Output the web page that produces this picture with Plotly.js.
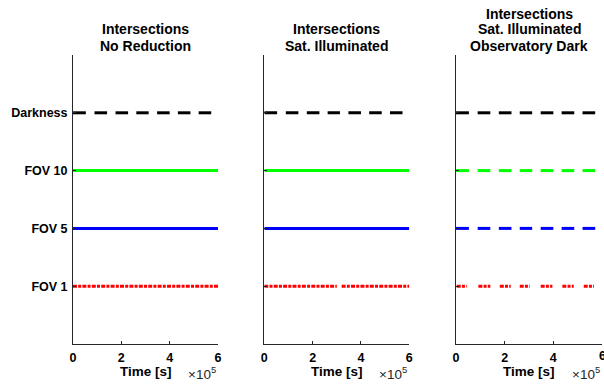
<!DOCTYPE html>
<html><head><meta charset="utf-8">
<script src="https://cdn.plot.ly/plotly-3.0.1.min.js"></script>
<style>html,body{margin:0;padding:0;background:#fff}#chart{width:604px;height:386px}</style>
</head><body><div id="chart"></div>
<script>
// ---- data (time in seconds) ----
const categories = ['FOV 1', 'FOV 5', 'FOV 10', 'Darkness'];
const categoryLevels = [1, 2, 3, 4];
const xTickValues = [0, 200000, 400000, 600000];
const xTickLabels = ['0', '2', '4', '6'];
const titlesP1 = ['Intersections', 'No Reduction'];
const titlesP2 = ['Intersections', 'Sat. Illuminated'];
const titlesP3 = ['Intersections', 'Sat. Illuminated', 'Observatory Dark'];

// darkness intervals (same for every panel)
const darknessStart = [0, 89000, 176000, 262000, 348000, 434000, 520000];
const darknessEnd   = [53000, 141000, 228000, 313000, 400000, 486000, 572000];

// panel 1: no reduction
const p1Fov10Start = [0],  p1Fov10End = [600000];
const p1Fov5Start  = [0],  p1Fov5End  = [600000];
const p1Fov1Start  = [0],  p1Fov1End  = [600000];

// panel 2: satellite illuminated
const p2Fov10Start = [0],  p2Fov10End = [600000];
const p2Fov5Start  = [0],  p2Fov5End  = [600000];
const p2Fov1Start  = [0, 320000], p2Fov1End = [300000, 600000];

// panel 3: satellite illuminated, observatory dark
const p3Fov10Start = [0, 89000, 176000, 262000, 348000, 434000, 520000];
const p3Fov10End   = [53000, 141000, 228000, 313000, 400000, 486000, 572000];
const p3Fov5Start  = [0, 89000, 176000, 262000, 348000, 434000, 520000];
const p3Fov5End    = [53000, 141000, 228000, 313000, 400000, 486000, 572000];
const p3Fov1Start  = [3000, 92000, 180000, 262000, 348000, 437000, 525000];
const p3Fov1End    = [44000, 141000, 225000, 303000, 396000, 484000, 567000];

// ---- styling ----
const FONT = 'Liberation Sans, Arial, Helvetica, sans-serif';
const AX = '#262626';
const plotTop = 55, plotBottom = 344;
function pyToPaper(py) { return (plotBottom - py) / (plotBottom - plotTop); }

function segs(starts, ends, level) {
  const x = [], y = [];
  for (let i = 0; i < starts.length; i++) {
    x.push(starts[i], ends[i], null);
    y.push(level, level, null);
  }
  return {x, y};
}

const panels = [
  {sfx: '',  d: [[darknessStart, darknessEnd], [p1Fov10Start, p1Fov10End], [p1Fov5Start, p1Fov5End], [p1Fov1Start, p1Fov1End]], dom: [73/604, 218/604], titles: titlesP1},
  {sfx: '2', d: [[darknessStart, darknessEnd], [p2Fov10Start, p2Fov10End], [p2Fov5Start, p2Fov5End], [p2Fov1Start, p2Fov1End]], dom: [264.3/604, 409.3/604], titles: titlesP2},
  {sfx: '3', d: [[darknessStart, darknessEnd], [p3Fov10Start, p3Fov10End], [p3Fov5Start, p3Fov5End], [p3Fov1Start, p3Fov1End]], dom: [456/604, 602/604], titles: titlesP3}
];
const seriesStyle = [
  {level: categoryLevels[3], color: '#000000', dash: 'solid'},
  {level: categoryLevels[2], color: '#00FF00', dash: 'solid'},
  {level: categoryLevels[1], color: '#0000FF', dash: 'solid'},
  {level: categoryLevels[0], color: '#FF0000', dash: '4px,1.2px,3px,1.2px'}
];

const traces = [];
const layout = {
  width: 604, height: 386,
  margin: {l: 0, r: 0, t: plotTop, b: 386 - plotBottom},
  paper_bgcolor: '#fff', plot_bgcolor: '#fff',
  showlegend: false,
  font: {family: FONT, color: '#000'},
  annotations: []
};

panels.forEach((p, pi) => {
  p.d.forEach((pair, si) => {
    const s = segs(pair[0], pair[1], seriesStyle[si].level);
    traces.push({
      type: 'scatter', mode: 'lines', x: s.x, y: s.y,
      xaxis: 'x' + p.sfx, yaxis: 'y' + p.sfx,
      connectgaps: false, hoverinfo: 'skip',
      line: {color: seriesStyle[si].color, width: 3, dash: seriesStyle[si].dash}
    });
  });
  layout['xaxis' + p.sfx] = {
    domain: p.dom, anchor: 'y' + p.sfx, range: [0, 600000],
    tickmode: 'array', tickvals: xTickValues, ticktext: xTickLabels,
    ticks: 'inside', ticklen: 3, tickcolor: AX, tickwidth: 1,
    showline: true, linecolor: AX, linewidth: 1,
    showgrid: false, zeroline: false, fixedrange: true,
    ticklabelstandoff: 2,
    tickfont: {family: FONT, size: 12.5, weight: 'bold', color: '#000'}
  };
  layout['yaxis' + p.sfx] = {
    domain: [0, 1], anchor: 'x' + p.sfx, range: [0, 5],
    tickmode: 'array', tickvals: categoryLevels, ticktext: categories,
    showticklabels: pi === 0,
    ticks: 'inside', ticklen: 3, tickcolor: AX, tickwidth: 1,
    showline: true, linecolor: AX, linewidth: 1,
    showgrid: false, zeroline: false, fixedrange: true,
    ticklabelstandoff: 2,
    tickfont: {family: FONT, size: 12.5, weight: 'bold', color: '#000'}
  };
  const cx = (p.dom[0] + p.dom[1]) / 2;
  const linePy = p.titles.length === 3 ? [14.3, 29.3, 45.7] : [29.3, 45.7];
  p.titles.forEach((t, ti) => {
    layout.annotations.push({
      xref: 'paper', yref: 'paper', x: cx, y: pyToPaper(linePy[ti]),
      xanchor: 'center', yanchor: 'middle', showarrow: false,
      text: t, font: {family: FONT, size: 14, weight: 'bold', color: '#000'}
    });
  });
  layout.annotations.push({
    xref: 'paper', yref: 'paper', x: cx, y: pyToPaper(371),
    xanchor: 'center', yanchor: 'middle', showarrow: false,
    text: 'Time [s]', font: {family: FONT, size: 13.5, weight: 'bold', color: '#000'}
  });
  layout.annotations.push({
    xref: 'paper', yref: 'paper', x: p.dom[1], y: pyToPaper(373),
    xanchor: 'right', yanchor: 'middle', showarrow: false,
    text: '\u00d710<sup>5</sup>', font: {family: FONT, size: 13.5, color: AX}
  });
});

// last tick label of the third panel sits on the page edge (partly cut off, as in the reference)
layout.annotations.push({
  xref: 'x3', yref: 'paper', x: xTickValues[3], y: pyToPaper(356),
  xanchor: 'center', yanchor: 'middle', showarrow: false,
  text: xTickLabels[3], font: {family: FONT, size: 12.5, weight: 'bold', color: '#000'}
});

Plotly.newPlot('chart', traces, layout, {displayModeBar: false, staticPlot: true});
</script>
</body></html>
